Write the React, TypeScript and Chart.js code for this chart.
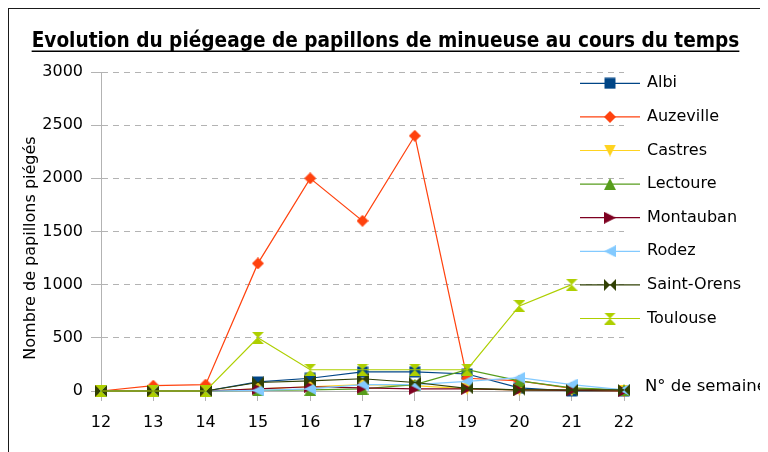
import React, { useEffect, useRef } from "react";
import { Chart, registerables } from "chart.js";

Chart.register(...registerables);

const TITLE = "Evolution du piégeage de papillons de minueuse au cours du temps";
const Y_TITLE = "Nombre de papillons piégés";
const X_TITLE = "N° de semaine";

const weeks = ["12", "13", "14", "15", "16", "17", "18", "19", "20", "21", "22"];
const seriesNames = ["Albi", "Auzeville", "Castres", "Lectoure", "Montauban", "Rodez", "Saint-Orens", "Toulouse"];

const albi = [0, 0, 0, 85, 120, 180, 180, 160, 30, 0, 0];
const auzeville = [0, 50, 60, 1200, 2000, 1600, 2400, 120, 95, 25, 0];
const castres = [0, 0, 0, 20, 40, 60, 50, 20, 10, 5, 0];
const lectoure = [0, 0, 0, 5, 10, 20, 60, 200, 95, 30, 10];
const montauban = [0, 0, 0, 20, 40, 30, 20, 20, 10, 5, 0];
const rodez = [0, 0, 0, 5, 20, 60, 60, 90, 125, 60, 10];
const saintOrens = [0, 0, 0, 80, 95, 115, 80, 25, 10, 10, 10];
const toulouse = [0, 0, 0, 500, 200, 200, 200, 200, 800, 1000, null];

const yMin = 0;
const yMax = 3000;
const yStep = 500;

const colors = ["#004586", "#ff420e", "#ffd320", "#579d1c", "#7e0021", "#83caff", "#314004", "#aecf00"];
const markerShapes = ["square", "diamond", "down", "up", "right", "left", "bowtie", "hourglass"];

const FONT = "'DejaVu Sans', sans-serif";

function makeMarker(shape: string, color: string, s = 12): HTMLCanvasElement {
  const c = document.createElement("canvas");
  c.width = s;
  c.height = s;
  const g = c.getContext("2d")!;
  g.fillStyle = color;
  const h = s / 2;
  g.beginPath();
  switch (shape) {
    case "square":
      g.rect(0.5, 0.5, s - 1, s - 1);
      break;
    case "diamond":
      g.moveTo(h, 0); g.lineTo(s, h); g.lineTo(h, s); g.lineTo(0, h); g.closePath();
      break;
    case "up":
      g.moveTo(h, 0); g.lineTo(s, s); g.lineTo(0, s); g.closePath();
      break;
    case "down":
      g.moveTo(0, 0); g.lineTo(s, 0); g.lineTo(h, s); g.closePath();
      break;
    case "right":
      g.moveTo(0, 0); g.lineTo(s, h); g.lineTo(0, s); g.closePath();
      break;
    case "left":
      g.moveTo(s, 0); g.lineTo(s, s); g.lineTo(0, h); g.closePath();
      break;
    case "bowtie":
      g.moveTo(0, 0); g.lineTo(h, h); g.lineTo(0, s); g.closePath();
      g.moveTo(s, 0); g.lineTo(h, h); g.lineTo(s, s); g.closePath();
      break;
    case "hourglass":
      g.moveTo(0, 0); g.lineTo(s, 0); g.lineTo(h, h); g.closePath();
      g.moveTo(0, s); g.lineTo(s, s); g.lineTo(h, h); g.closePath();
      break;
  }
  g.fill();
  return c;
}

export default function App() {
  const ref = useRef<HTMLCanvasElement>(null);

  useEffect(() => {
    const canvas = ref.current!;
    const markers = markerShapes.map((s, i) => makeMarker(s, colors[i]));
    const seriesValues = [albi, auzeville, castres, lectoure, montauban, rodez, saintOrens, toulouse];

    const decor = {
      id: "decor",
      afterDraw(chart: any) {
        const ctx: CanvasRenderingContext2D = chart.ctx;
        ctx.save();
        // Title
        ctx.font = "bold 20.6px 'DejaVu Sans Condensed', 'DejaVu Sans', sans-serif";
        ctx.fillStyle = "#000";
        ctx.textAlign = "center";
        ctx.textBaseline = "alphabetic";
        const tx = 376.5;
        const ty = 38;
        ctx.fillText(TITLE, tx, ty);
        const tw = ctx.measureText(TITLE).width;
        ctx.fillRect(tx - tw / 2, 41.5, tw, 1.5);

        // Y axis title
        ctx.save();
        ctx.translate(22, 239);
        ctx.rotate(-Math.PI / 2);
        ctx.font = "16px " + FONT;
        ctx.textAlign = "center";
        ctx.textBaseline = "middle";
        ctx.fillText(Y_TITLE, 0, 0);
        ctx.restore();

        // X axis title
        ctx.font = "16.5px " + FONT;
        ctx.textAlign = "left";
        ctx.textBaseline = "middle";
        ctx.fillText(X_TITLE, 636, 378);

        // Legend
        ctx.font = "16px " + FONT;
        chart.data.datasets.forEach((ds: any, i: number) => {
          const y = 74.3 + 33.6 * i;
          ctx.strokeStyle = ds.borderColor;
          ctx.lineWidth = 1.2;
          ctx.beginPath();
          ctx.moveTo(571, y);
          ctx.lineTo(631, y);
          ctx.stroke();
          const m = ds.pointStyle as HTMLCanvasElement;
          ctx.drawImage(m, 601 - m.width / 2, y - m.height / 2);
          ctx.fillStyle = "#000";
          ctx.fillText(ds.label, 638, y);
        });
        ctx.restore();
      },
    };

    const chart = new Chart(canvas, {
      type: "line",
      data: {
        labels: weeks,
        datasets: seriesNames.map((name, i) => ({
          label: name,
          data: seriesValues[i],
          borderColor: colors[i],
          backgroundColor: colors[i],
          borderWidth: 1.2,
          pointStyle: markers[i],
          pointRadius: 6,
          pointHoverRadius: 6,
          tension: 0,
          clip: false,
          order: seriesNames.length - i,
          spanGaps: false,
        })) as any,
      },
      options: {
        responsive: false,
        animation: false,
        events: [],
        layout: { padding: { left: 0, top: 63, right: 144, bottom: 0 } },
        plugins: {
          legend: { display: false },
          title: { display: false },
          tooltip: { enabled: false },
        },
        scales: {
          x: {
            type: "category",
            offset: false,
            grid: { display: true, drawOnChartArea: false, drawTicks: true, tickLength: 10, color: "#b3b3b3", lineWidth: 1 },
            border: { display: true, color: "#b3b3b3", width: 1 },
            ticks: { color: "#000", font: { family: FONT, size: 16 }, padding: 12, maxRotation: 0, autoSkip: false },
            afterFit: (s: any) => { s.height = 61; },
          },
          y: {
            min: yMin,
            max: yMax,
            ticks: {
              stepSize: yStep,
              color: "#000",
              font: { family: FONT, size: 16 },
              padding: 8,
              callback: (v: any) => String(v),
            },
            grid: { color: "#b3b3b3", lineWidth: 1, tickLength: 10, drawTicks: true },
            border: { display: true, color: "#b3b3b3", width: 1, dash: [6, 5] },
            afterFit: (s: any) => { s.width = 92; },
          },
        } as any,
      },
      plugins: [decor],
    });
    return () => chart.destroy();
  }, []);

  return (
    <div
      style={{
        position: "relative",
        width: 760,
        height: 444,
        boxSizing: "border-box",
        borderTop: "1px solid #1a1a1a",
        borderLeft: "1px solid #1a1a1a",
        background: "#fff",
      }}
    >
      <canvas ref={ref} width={759} height={443} style={{ display: "block", width: 759, height: 443 }} />
    </div>
  );
}
